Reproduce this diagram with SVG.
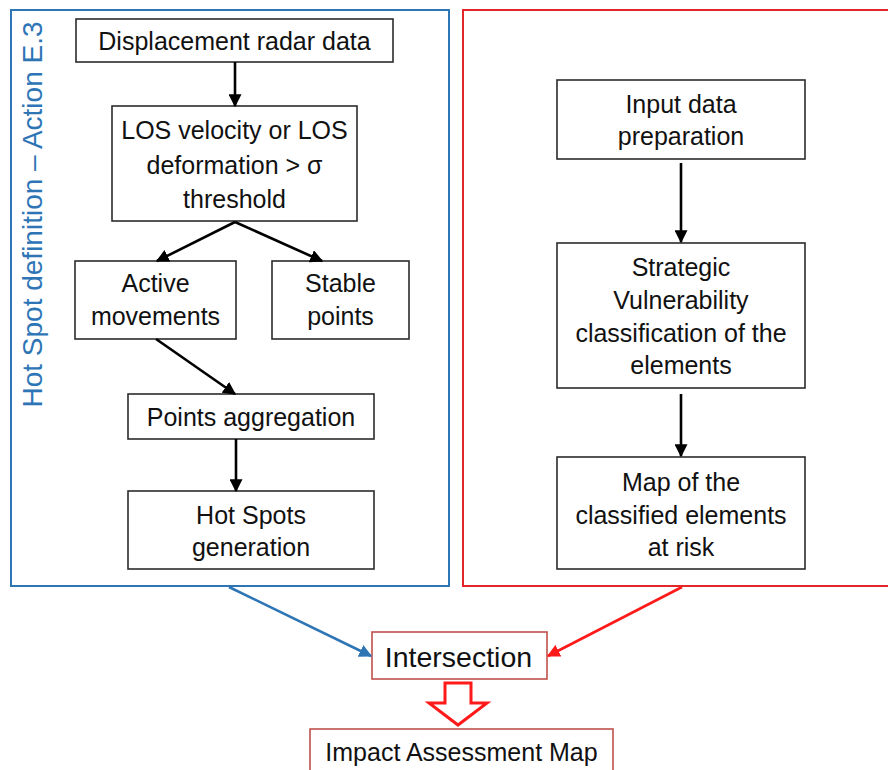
<svg xmlns="http://www.w3.org/2000/svg" width="888" height="770" viewBox="0 0 888 770">
  <style>
    .box { fill: #ffffff; stroke: #2b2b2b; stroke-width: 1.6; }
    .lbl { font-family: "Liberation Sans", Arial, sans-serif; font-size: 25px; fill: #111111; text-anchor: middle; }
    .lbl-big { font-size: 28.5px; }
    .flow { stroke: #000000; stroke-width: 2.6; fill: none; marker-end: url(#arrBlack); }
    .panelBlue { fill: none; stroke: #2e75b6; stroke-width: 2; }
    .panelRed { fill: none; stroke: #e3262a; stroke-width: 2; }
  </style>
  <defs>
    <marker id="arrBlack" viewBox="0 0 10 10" refX="9" refY="5" markerWidth="5" markerHeight="5" orient="auto" markerUnits="strokeWidth">
      <path d="M0,0 L10,5 L0,10 z" fill="#000000"/>
    </marker>
    <marker id="arrBlue" viewBox="0 0 10 10" refX="9" refY="5" markerWidth="5" markerHeight="5" orient="auto" markerUnits="strokeWidth">
      <path d="M0,0 L10,5 L0,10 z" fill="#2e75b6"/>
    </marker>
    <marker id="arrRed" viewBox="0 0 10 10" refX="9" refY="5" markerWidth="5" markerHeight="5" orient="auto" markerUnits="strokeWidth">
      <path d="M0,0 L10,5 L0,10 z" fill="#ff1a1a"/>
    </marker>
  </defs>

  <rect width="888" height="770" fill="#ffffff"/>

  <!-- panels -->
  <g id="panel-hotspot">
    <rect class="panelBlue" x="11" y="10" width="438" height="576"/>
    <text x="42" y="214.5" transform="rotate(-90 42 214.5)" font-family="Liberation Sans, Arial, sans-serif" font-size="28" fill="#2e75b6" text-anchor="middle">Hot Spot definition – Action E.3</text>
  </g>
  <g id="panel-vulnerability">
    <rect class="panelRed" x="463" y="10" width="440" height="576"/>
  </g>

  <!-- left column -->
  <g id="n-radar">
    <rect class="box" x="76" y="19" width="317" height="43"/>
    <text class="lbl" x="234.5" y="50">Displacement radar data</text>
  </g>
  <g id="n-los">
    <rect class="box" x="112" y="106" width="245" height="115"/>
    <text class="lbl" x="234.5" y="139">LOS velocity or LOS</text>
    <text class="lbl" x="234.5" y="174">deformation &gt; σ</text>
    <text class="lbl" x="234.5" y="208">threshold</text>
  </g>
  <g id="n-active">
    <rect class="box" x="75" y="261" width="161" height="78"/>
    <text class="lbl" x="155.5" y="292">Active</text>
    <text class="lbl" x="155.5" y="325">movements</text>
  </g>
  <g id="n-stable">
    <rect class="box" x="272" y="261" width="137" height="78"/>
    <text class="lbl" x="340.5" y="292">Stable</text>
    <text class="lbl" x="340.5" y="325">points</text>
  </g>
  <g id="n-aggregation">
    <rect class="box" x="128" y="394" width="246" height="45"/>
    <text class="lbl" x="251" y="426">Points aggregation</text>
  </g>
  <g id="n-hotspots">
    <rect class="box" x="128" y="491" width="246" height="78"/>
    <text class="lbl" x="251" y="524">Hot Spots</text>
    <text class="lbl" x="251" y="556">generation</text>
  </g>

  <!-- right column -->
  <g id="n-input">
    <rect class="box" x="557" y="80" width="248" height="79"/>
    <text class="lbl" x="681" y="113">Input data</text>
    <text class="lbl" x="681" y="145">preparation</text>
  </g>
  <g id="n-strategic">
    <rect class="box" x="557" y="243" width="248" height="145"/>
    <text class="lbl" x="681" y="276">Strategic</text>
    <text class="lbl" x="681" y="309">Vulnerability</text>
    <text class="lbl" x="681" y="342">classification of the</text>
    <text class="lbl" x="681" y="374">elements</text>
  </g>
  <g id="n-map">
    <rect class="box" x="557" y="457" width="248" height="112"/>
    <text class="lbl" x="681" y="491">Map of the</text>
    <text class="lbl" x="681" y="524">classified elements</text>
    <text class="lbl" x="681" y="556">at risk</text>
  </g>

  <!-- merge stage -->
  <g id="n-intersection">
    <rect x="372" y="632" width="175" height="47" fill="#ffffff" stroke="#c0504d" stroke-width="1.6"/>
    <text class="lbl lbl-big" x="458.5" y="667">Intersection</text>
  </g>
  <g id="n-impact">
    <rect x="310" y="729" width="303" height="50" fill="#ffffff" stroke="#c0504d" stroke-width="1.6"/>
    <text class="lbl" x="461.5" y="761">Impact Assessment Map</text>
  </g>

  <!-- connectors -->
  <g id="connectors">
    <line class="flow" x1="235" y1="62" x2="235" y2="106"/>
    <line class="flow" x1="235" y1="222" x2="157" y2="261"/>
    <line class="flow" x1="235" y1="222" x2="322" y2="261"/>
    <line class="flow" x1="156" y1="339" x2="235" y2="394"/>
    <line class="flow" x1="236" y1="439" x2="236" y2="491"/>
    <line class="flow" x1="681" y1="163" x2="681" y2="242"/>
    <line class="flow" x1="681" y1="394" x2="681" y2="456"/>
    <line x1="229" y1="587" x2="371" y2="656" stroke="#2e75b6" stroke-width="2.6" marker-end="url(#arrBlue)"/>
    <line x1="682" y1="587" x2="548" y2="656" stroke="#ff1a1a" stroke-width="2.6" marker-end="url(#arrRed)"/>
    <polygon points="445,683 471,683 471,703 487,703 458,725 429,703 445,703" fill="#ffffff" stroke="#ff1a1a" stroke-width="3" stroke-linejoin="miter"/>
  </g>
</svg>
